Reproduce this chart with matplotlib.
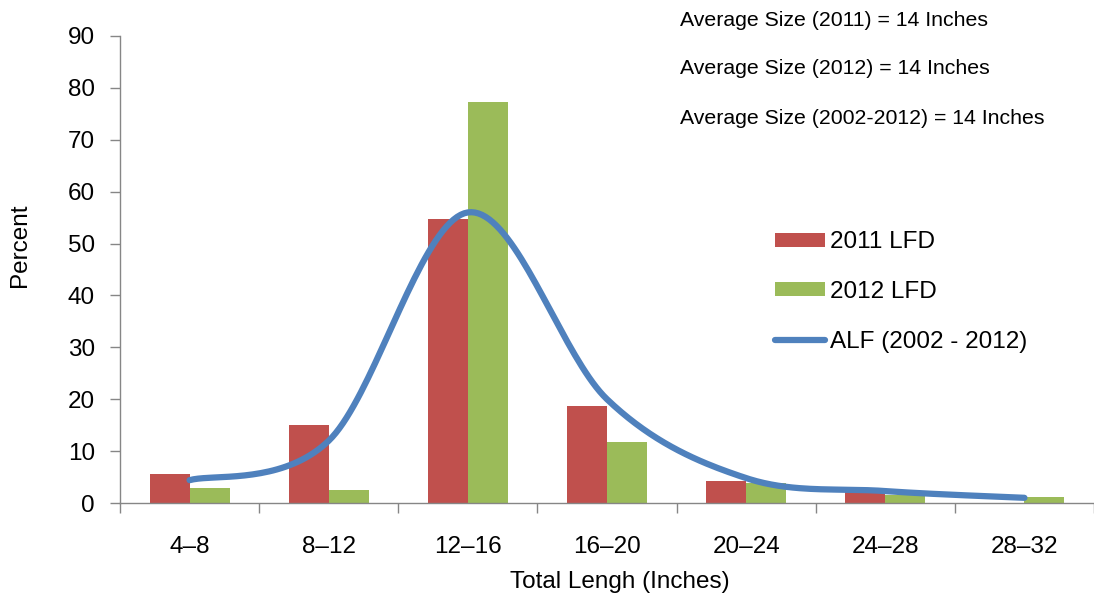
import numpy as np
import matplotlib
matplotlib.use("Agg")
import matplotlib.pyplot as plt
from matplotlib.lines import Line2D
from matplotlib.patches import Patch

# ---- data ----
categories = ["4–8", "8–12", "12–16", "16–20", "20–24", "24–28", "28–32"]
lfd_2011 = [5.5, 15.0, 54.8, 18.6, 4.3, 2.3, 0.0]
lfd_2012 = [2.9, 2.5, 77.2, 11.8, 3.9, 1.5, 1.1]
alf_2002_2012 = [4.4, 12.0, 56.0, 20.0, 4.8, 2.3, 1.0]
y_ticks = [0, 10, 20, 30, 40, 50, 60, 70, 80, 90]
notes = ["Average Size (2011) = 14 Inches",
         "Average Size (2012) = 14 Inches",
         "Average Size (2002-2012) = 14 Inches"]

RED = "#C0504D"
GREEN = "#9BBB59"
BLUE = "#4F81BD"
GREY = "#868686"
FS = 17.5

plt.rcParams["font.family"] = ["Liberation Sans", "DejaVu Sans"]

W, H = 1094, 600
fig = plt.figure(figsize=(W / 100, H / 100), dpi=100)
ax = fig.add_axes([120 / W, 1 - 503 / H, 974 / W, (503 - 36) / H])

x = np.arange(len(categories))
bw = 0.287
ax.bar(x - bw / 2, lfd_2011, width=bw, color=RED, edgecolor="none", zorder=2)
ax.bar(x + bw / 2, lfd_2012, width=bw, color=GREEN, edgecolor="none", zorder=2)

# Excel-like smoothed line (Catmull-Rom / Bezier with 1/6 control points)
def smooth(xs, ys, n=40):
    xs = np.asarray(xs, float)
    ys = np.asarray(ys, float)
    px = np.concatenate([[xs[0]], xs, [xs[-1]]])
    py = np.concatenate([[ys[0]], ys, [ys[-1]]])
    ox, oy = [], []
    t = np.linspace(0, 1, n)
    for i in range(1, len(px) - 2):
        p0 = np.array([px[i], py[i]])
        p1 = np.array([px[i + 1], py[i + 1]])
        c1 = p0 + (np.array([px[i + 1], py[i + 1]]) - np.array([px[i - 1], py[i - 1]])) / 6
        c2 = p1 - (np.array([px[i + 2], py[i + 2]]) - np.array([px[i], py[i]])) / 6
        b = ((1 - t) ** 3)[:, None] * p0 + (3 * (1 - t) ** 2 * t)[:, None] * c1 \
            + (3 * (1 - t) * t ** 2)[:, None] * c2 + (t ** 3)[:, None] * p1
        ox.extend(b[:, 0]); oy.extend(b[:, 1])
    return np.array(ox), np.array(oy)

sx, sy = smooth(x, alf_2002_2012)
ax.plot(sx, sy, color=BLUE, lw=4.5, solid_capstyle="round", zorder=3)

ax.set_xlim(-0.5, -0.5 + 974 / 139.7)
ax.set_ylim(0, 90)
ax.set_yticks(y_ticks)
ax.set_xticks(x)
ax.set_xticklabels(categories)
ax.set_xticks(np.arange(len(categories) + 1) - 0.5, minor=True)
ax.tick_params(axis="x", which="major", length=0, pad=24, labelsize=FS)
ax.tick_params(axis="x", which="minor", length=7, width=1, color=GREY)
ax.tick_params(axis="y", length=7, width=1, color=GREY, labelsize=FS, pad=11)

for s in ["top", "right"]:
    ax.spines[s].set_visible(False)
for s in ["left", "bottom"]:
    ax.spines[s].set_color(GREY)
    ax.spines[s].set_linewidth(1)

ax.set_ylabel("Percent", fontsize=FS, va="center")
ax.set_xlabel("Total Lengh (Inches)", fontsize=FS, va="center")
ax.xaxis.set_label_coords((620 - 120) / 974, -(582 - 503) / 467)
ax.yaxis.set_label_coords(-(120 - 20) / 974, (503 - 245) / 467)

handles = [Patch(facecolor=RED, edgecolor="none"),
           Patch(facecolor=GREEN, edgecolor="none"),
           Line2D([0], [0], color=BLUE, lw=4.5, solid_capstyle="round")]
labels = ["2011 LFD", "2012 LFD", "ALF (2002 - 2012)"]
ax.legend(handles, labels, loc="center left",
          bbox_to_anchor=((775 - 120) / 974, (503 - 292) / 467),
          frameon=False, fontsize=FS, handlelength=2.06, handleheight=0.5,
          handletextpad=0.2, labelspacing=1.14, borderpad=0, borderaxespad=0)

for i, t in enumerate(notes):
    fig.text(680 / W, 1 - (20 + 49 * i) / H, t, fontsize=15.3, va="center", ha="left")

fig.savefig("out.png", dpi=100)
